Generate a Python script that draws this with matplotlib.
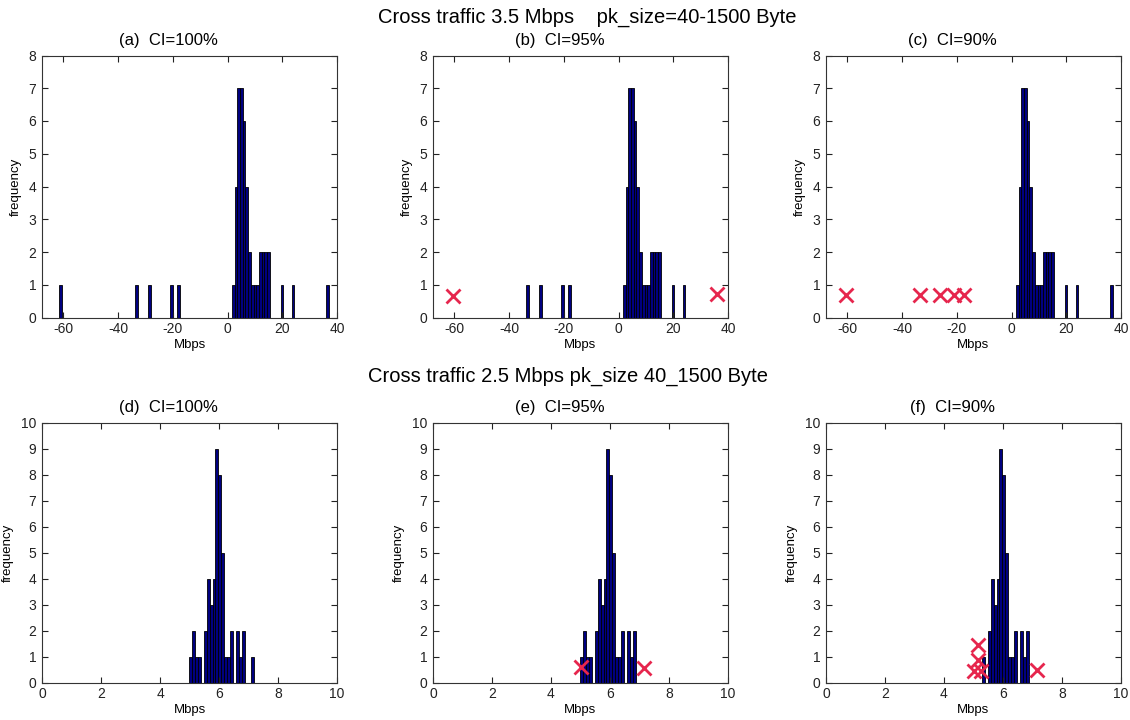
import numpy as np
import matplotlib
matplotlib.use("Agg")
from matplotlib import pyplot as plt

plt.rcParams['font.family'] = ['Liberation Sans', 'DejaVu Sans']
plt.rcParams['axes.unicode_minus'] = False

# ---- top row: cross traffic 3.5 Mbps (bin centres in Mbps, counts per bin)
top_centers = [-61.0, -33.3, -28.4, -20.4, -17.8,
               2.1, 3.09, 4.08, 5.07, 6.06, 7.05, 8.04, 9.03, 10.02, 11.01,
               12.0, 12.99, 13.98, 14.97, 19.9, 23.9, 36.6]
counts_a = [1, 1, 1, 1, 1,
            1, 4, 7, 7, 6, 4, 2, 1, 1, 1, 2, 2, 2, 2, 1, 1, 1]
counts_b = [0, 1, 1, 1, 1,
            1, 4, 7, 7, 6, 4, 2, 1, 1, 1, 2, 2, 2, 2, 1, 1, 0]
counts_c = [0, 0, 0, 0, 0,
            1, 4, 7, 7, 6, 4, 2, 1, 1, 1, 2, 2, 2, 2, 1, 1, 1]
out_b_x = [-60.5, 36.1]
out_b_y = [0.67, 0.72]
out_c_x = [-60.5, -33.6, -26.0, -20.9, -17.2]
out_c_y = [0.7, 0.7, 0.7, 0.7, 0.7]

# ---- bottom row: cross traffic 2.5 Mbps
bot_centers = [5.03, 5.13, 5.23, 5.33, 5.43, 5.53, 5.63, 5.73, 5.83, 5.93, 6.03,
               6.13, 6.23, 6.33, 6.43, 6.53, 6.63, 6.73, 6.83, 6.93, 7.03, 7.13]
counts_d = [1, 2, 1, 1, 0, 2, 4, 3, 4, 9, 8, 5, 1, 1, 2, 0, 2, 1, 2, 0, 0, 1]
counts_e = [1, 2, 1, 1, 0, 2, 4, 3, 4, 9, 8, 5, 1, 1, 2, 0, 2, 1, 2, 0, 0, 0]
counts_f = [0, 0, 0, 1, 0, 2, 4, 3, 4, 9, 8, 5, 1, 1, 2, 0, 2, 1, 2, 0, 0, 0]
out_e_x = [5.02, 7.14]
out_e_y = [0.59, 0.55]
out_f_x = [5.14, 5.15, 5.02, 5.26, 7.16]
out_f_y = [1.45, 0.86, 0.45, 0.45, 0.5]

titles_top = ['(a)  CI=100%', '(b)  CI=95%', '(c)  CI=90%']
titles_bot = ['(d)  CI=100%', '(e)  CI=95%', '(f)  CI=90%']

bar_col = (0, 0, 0.5)
mark_col = (0.9, 0.15, 0.3)

fig = plt.figure(figsize=(11.3, 7.2), dpi=100)
W, H = 1130.0, 720.0
lefts = [42, 433, 826]
aw = 295

def style(ax):
    ax.tick_params(direction='in', top=True, right=True, length=4, labelsize=10,
                   colors='#222222', pad=4)
    ax.tick_params(axis='x', pad=3)
    for s in ax.spines.values():
        s.set_color('#333333')
        s.set_linewidth(0.8)
    ax.set_ylabel('frequency', fontsize=9.5, labelpad=5)
    ax.set_xlabel('Mbps', fontsize=9.5, labelpad=2.5)

top_counts = [counts_a, counts_b, counts_c]
top_out = [None, (out_b_x, out_b_y), (out_c_x, out_c_y)]
for i in range(3):
    ax = fig.add_axes([lefts[i] / W, 1 - 317.5 / H, aw / W, 262 / H])
    ax.bar(top_centers, top_counts[i], width=0.99, color=bar_col,
           edgecolor='black', linewidth=0.6)
    if top_out[i] is not None:
        ax.plot(top_out[i][0], top_out[i][1], 'x', color=mark_col, ms=10, mew=2)
    ax.set_xlim(-67.8, 40)
    ax.set_ylim(0, 8)
    ax.set_xticks(np.arange(-60, 41, 20))
    ax.set_yticks(np.arange(0, 9, 1))
    style(ax)
    ax.text(0.43, 1.03, titles_top[i], transform=ax.transAxes, ha='center',
            va='bottom', fontsize=12)

bot_counts = [counts_d, counts_e, counts_f]
bot_out = [None, (out_e_x, out_e_y), (out_f_x, out_f_y)]
for i in range(3):
    ax = fig.add_axes([lefts[i] / W, 1 - 682.7 / H, aw / W, 260 / H])
    ax.bar(bot_centers, bot_counts[i], width=0.1, color=bar_col,
           edgecolor='black', linewidth=0.6)
    if bot_out[i] is not None:
        ax.plot(bot_out[i][0], bot_out[i][1], 'x', color=mark_col, ms=10, mew=2)
    ax.set_xlim(0, 10)
    ax.set_ylim(0, 10)
    ax.set_xticks(np.arange(0, 11, 2))
    ax.set_yticks(np.arange(0, 11, 1))
    style(ax)
    ax.text(0.43, 1.03, titles_bot[i], transform=ax.transAxes, ha='center',
            va='bottom', fontsize=12)

fig.text(587 / W, 1 - 17 / H, 'Cross traffic 3.5 Mbps    pk_size=40-1500 Byte',
         ha='center', va='center', fontsize=14.5)
fig.text(568 / W, 1 - 376 / H, 'Cross traffic 2.5 Mbps pk_size 40_1500 Byte',
         ha='center', va='center', fontsize=14.5)

fig.savefig('out.png', dpi=100)
